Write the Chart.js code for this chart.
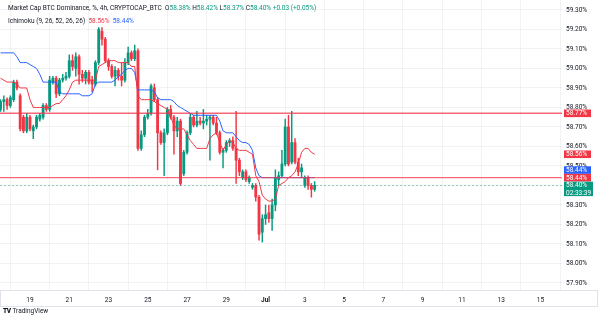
<!DOCTYPE html>
<html>
<head>
<meta charset="utf-8">
<script src="https://cdn.jsdelivr.net/npm/chart.js@4.4.1/dist/chart.umd.min.js"></script>
<style>
  html, body { margin: 0; padding: 0; background: #fff; }
  #wrap { position: relative; width: 600px; height: 315px; overflow: hidden; font-family: Roboto, "Liberation Sans", sans-serif; }
  #c { position: absolute; left: 0; top: 0; }
  .legend { position: absolute; left: 8px; font-size: 6.5px; line-height: 8px; color: #131722; white-space: nowrap; }
  .up { color: #089981; }
  .red { color: #F23645; }
  .blue { color: #2962FF; }
  #logo { position: absolute; left: 3px; top: 307px; font-size: 6.5px; line-height: 8px; color: #131722; white-space: nowrap; }
  #logo b { font-weight: 900; letter-spacing: -0.5px; margin-right: 2px; }
</style>
</head>
<body>
<div id="wrap">
  <canvas id="c" width="600" height="315"></canvas>
  <div class="legend" style="top:4px">Market Cap BTC Dominance, %, 4h, CRYPTOCAP_BTC&nbsp; O<span class="up">58.38%</span> H<span class="up">58.42%</span> L<span class="up">58.37%</span> C<span class="up">58.40%</span> <span class="up">+0.03 (+0.05%)</span></div>
  <div class="legend" style="top:17px">Ichimoku (9, 26, 52, 26, 26)&nbsp; <span class="red">58.56%</span>&nbsp; <span class="blue">58.44%</span></div>
  <div id="logo"><b>TV</b>TradingView</div>
</div>
<script>
// 4h candles, first one June 17 12:00 (x axis = day of June, Jul 1 = 31)
var startDay = 17.5;
var candleStep = 1 / 6;

var opens = [
  58.79, 58.83, 58.84, 58.81, 58.84, 58.93, 58.86, 58.75, 58.68, 58.75,
  58.68, 58.70, 58.74, 58.75, 58.81, 58.79, 58.93, 58.95, 58.87, 58.94,
  58.95, 58.96, 59.04, 59.00, 59.06, 58.97, 58.95, 58.98, 58.94, 58.92,
  59.03, 59.19, 59.15, 59.04, 59.01, 58.96, 58.99, 58.96, 58.94, 59.03,
  59.08, 59.05, 59.09, 58.59, 58.66, 58.75, 58.77, 58.90, 58.84, 58.67,
  58.62, 58.67, 58.79, 58.75, 58.68, 58.73, 58.46, 58.57, 58.67, 58.75,
  58.71, 58.73, 58.72, 58.73, 58.74, 58.75, 58.72, 58.67, 58.57, 58.58,
  58.62, 58.63, 58.59, 58.53, 58.44, 58.47, 58.42, 58.39, 58.40, 58.34,
  58.16, 58.23, 58.26, 58.23, 58.30, 58.43, 58.45, 58.51, 58.70, 58.52,
  58.62, 58.52, 58.47, 58.40, 58.44, 58.40, 58.38
];
var highs = [
  58.84, 58.86, 58.85, 58.86, 58.94, 58.94, 58.87, 58.76, 58.77, 58.76,
  58.71, 58.76, 58.77, 58.82, 58.82, 58.96, 58.96, 58.96, 58.95, 58.97,
  58.98, 59.07, 59.07, 59.08, 59.07, 58.99, 58.99, 58.99, 58.96, 59.04,
  59.21, 59.21, 59.16, 59.05, 59.02, 59.01, 59.00, 59.03, 59.05, 59.11,
  59.09, 59.12, 59.10, 58.68, 58.76, 58.79, 58.92, 58.92, 58.85, 58.68,
  58.69, 58.80, 58.81, 58.76, 58.75, 58.74, 58.58, 58.68, 58.77, 58.76,
  58.78, 58.75, 58.79, 58.76, 58.76, 58.76, 58.75, 58.68, 58.59, 58.63,
  58.64, 58.65, 58.78, 58.54, 58.48, 58.48, 58.45, 58.41, 58.41, 58.35,
  58.25, 58.30, 58.30, 58.33, 58.48, 58.47, 58.58, 58.74, 58.76, 58.78,
  58.64, 58.54, 58.51, 58.45, 58.45, 58.41, 58.42
];
var lows = [
  58.78, 58.78, 58.79, 58.80, 58.83, 58.89, 58.68, 58.67, 58.67, 58.68,
  58.64, 58.69, 58.73, 58.74, 58.78, 58.78, 58.92, 58.85, 58.86, 58.93,
  58.94, 58.95, 58.99, 58.96, 58.92, 58.93, 58.92, 58.92, 58.88, 58.91,
  59.02, 59.12, 59.03, 58.99, 58.95, 58.91, 58.94, 58.91, 58.93, 59.02,
  59.04, 59.04, 58.58, 58.58, 58.65, 58.74, 58.76, 58.83, 58.48, 58.61,
  58.45, 58.66, 58.74, 58.56, 58.65, 58.40, 58.45, 58.56, 58.66, 58.70,
  58.70, 58.71, 58.69, 58.71, 58.53, 58.71, 58.66, 58.56, 58.49, 58.57,
  58.60, 58.58, 58.41, 58.45, 58.43, 58.42, 58.41, 58.38, 58.32, 58.12,
  58.11, 58.20, 58.21, 58.17, 58.27, 58.40, 58.44, 58.50, 58.50, 58.51,
  58.51, 58.45, 58.44, 58.39, 58.38, 58.34, 58.37
];
var closes = [
  58.83, 58.84, 58.81, 58.85, 58.93, 58.90, 58.69, 58.68, 58.75, 58.69,
  58.70, 58.75, 58.76, 58.81, 58.79, 58.94, 58.95, 58.87, 58.94, 58.95,
  58.96, 59.04, 59.01, 59.06, 58.97, 58.95, 58.98, 58.93, 58.92, 59.03,
  59.20, 59.15, 59.04, 59.01, 58.96, 58.99, 58.96, 58.94, 59.03, 59.08,
  59.05, 59.09, 58.59, 58.66, 58.75, 58.77, 58.91, 58.84, 58.67, 58.62,
  58.67, 58.79, 58.75, 58.68, 58.73, 58.41, 58.57, 58.67, 58.75, 58.71,
  58.73, 58.72, 58.73, 58.74, 58.75, 58.72, 58.67, 58.57, 58.58, 58.62,
  58.63, 58.59, 58.53, 58.47, 58.47, 58.43, 58.44, 58.40, 58.34, 58.15,
  58.23, 58.25, 58.23, 58.30, 58.44, 58.45, 58.51, 58.70, 58.51, 58.62,
  58.52, 58.47, 58.49, 58.44, 58.40, 58.38, 58.40
];

// Ichimoku lines
var conversionLine = [
  58.95, 58.94, 58.93, 58.93, 58.93, 58.92, 58.90, 58.90, 58.90, 58.84,
  58.80, 58.80, 58.80, 58.80, 58.80, 58.80, 58.81, 58.82, 58.82, 58.84,
  58.86, 58.89, 58.93, 58.94, 58.94, 58.94, 58.94, 58.94, 58.94, 58.94,
  59.01, 59.02, 59.03, 59.04, 59.04, 59.04, 59.03, 59.03, 59.03, 59.03,
  59.01, 59.01, 58.86, 58.84, 58.84, 58.84, 58.84, 58.83, 58.82, 58.81,
  58.80, 58.79, 58.75, 58.71, 58.69, 58.69, 58.69, 58.66, 58.63, 58.61,
  58.59, 58.59, 58.59, 58.59, 58.64, 58.66, 58.67, 58.62, 58.58, 58.61,
  58.63, 58.62, 58.59, 58.58, 58.58, 58.58, 58.57, 58.56, 58.45, 58.42,
  58.35, 58.33, 58.32, 58.32, 58.33, 58.40, 58.41, 58.42, 58.44, 58.45,
  58.47, 58.51, 58.57, 58.59, 58.59, 58.57, 58.56
];
var baseLine = [
  59.08, 59.08, 59.08, 59.08, 59.08, 59.06, 59.03, 59.03, 59.03, 59.02,
  59.01, 59.00, 58.97, 58.93, 58.93, 58.93, 58.93, 58.93, 58.88, 58.87,
  58.87, 58.87, 58.87, 58.87, 58.87, 58.86, 58.86, 58.86, 58.87, 58.92,
  58.93, 58.93, 58.93, 58.93, 58.93, 58.94, 58.96, 58.97, 58.99, 59.00,
  59.00, 58.98, 58.89, 58.89, 58.89, 58.89, 58.89, 58.88, 58.85, 58.84,
  58.84, 58.84, 58.84, 58.83, 58.81, 58.80, 58.79, 58.78, 58.77, 58.76,
  58.76, 58.76, 58.76, 58.76, 58.76, 58.76, 58.76, 58.73, 58.68, 58.67,
  58.67, 58.67, 58.65, 58.63, 58.62, 58.62, 58.61, 58.58, 58.49, 58.45,
  58.44, 58.44, 58.44, 58.44, 58.44, 58.44, 58.44, 58.44, 58.44, 58.44,
  58.44, 58.44, 58.44, 58.44, 58.44, 58.44, 58.44
];

var levelPrices = [58.77, 58.44];
var lastPrice = 58.40;
var countdown = '02:33:39';

var yTicks = [57.9, 58.0, 58.1, 58.2, 58.3, 58.4, 58.5, 58.6, 58.7, 58.8, 58.9, 59.0, 59.1, 59.2, 59.3];
var xTickDays = [19, 21, 23, 25, 27, 29, 31, 33, 35, 37, 39, 41, 43, 45];
var xTickLabels = ['19', '21', '23', '25', '27', '29', 'Jul', '3', '5', '7', '9', '11', '13', '15'];

var UP = '#089981', DOWN = '#F23645', BLUE = '#2962FF';

var times = opens.map(function (v, i) { return startDay + i * candleStep; });
var candleColors = opens.map(function (o, i) { return closes[i] >= o ? UP : DOWN; });

var wickData = [], bodyData = [], convData = [], baseData = [];
for (var i = 0; i < times.length; i++) {
  wickData.push({ x: times[i], y: [lows[i], highs[i]] });
  bodyData.push({ x: times[i], y: [opens[i], closes[i]] });
  convData.push({ x: times[i], y: conversionLine[i] });
  baseData.push({ x: times[i], y: baseLine[i] });
}

var overlay = {
  id: 'overlay',
  afterDatasetsDraw: function (chart) {
    var ctx = chart.ctx, a = chart.chartArea, y = chart.scales.y;
    ctx.save();
    ctx.beginPath();
    ctx.rect(a.left, a.top, a.right - a.left, a.bottom - a.top);
    ctx.clip();
    // last price dotted line
    ctx.strokeStyle = 'rgba(8,153,129,0.45)';
    ctx.lineWidth = 1;
    ctx.setLineDash([2, 2]);
    var py = Math.round(y.getPixelForValue(lastPrice)) + 0.5;
    ctx.beginPath(); ctx.moveTo(a.left, py); ctx.lineTo(a.right, py); ctx.stroke();
    ctx.setLineDash([]);
    // horizontal levels
    ctx.strokeStyle = 'rgba(242,54,69,0.75)';
    ctx.lineWidth = 1.4;
    levelPrices.forEach(function (p) {
      var ly = y.getPixelForValue(p);
      ctx.beginPath(); ctx.moveTo(a.left, ly); ctx.lineTo(600, ly); ctx.stroke();
    });
    ctx.restore();
  },
  afterDraw: function (chart) {
    var ctx = chart.ctx, a = chart.chartArea, y = chart.scales.y;
    ctx.save();
    // time axis box
    ctx.strokeStyle = '#e0e3eb';
    ctx.lineWidth = 1;
    ctx.strokeRect(0.5, a.bottom + 0.5, 597, 16);

    var tags = [
      { v: levelPrices[0], c: DOWN },
      { v: conversionLine[conversionLine.length - 1], c: DOWN },
      { v: baseLine[baseLine.length - 1], c: BLUE },
      { v: levelPrices[1], c: DOWN },
      { v: lastPrice, c: UP, sub: countdown }
    ];
    var h = 7.6;
    tags.forEach(function (t) { t.y = y.getPixelForValue(t.v); t.top = t.y - h / 2; t.bot = t.sub ? t.y + h * 1.4 : t.y + h / 2; });
    // push labels up when they overlap, bottom first
    for (var k = tags.length - 2; k >= 0; k--) {
      var below = tags[k + 1];
      if (tags[k].bot > below.top) {
        var d = tags[k].bot - below.top;
        tags[k].y -= d; tags[k].top -= d; tags[k].bot -= d;
      }
    }
    ctx.font = '6.5px Roboto, "Liberation Sans", sans-serif';
    ctx.textBaseline = 'middle';
    ctx.textAlign = 'left';
    tags.forEach(function (t) {
      ctx.fillStyle = t.c;
      ctx.fillRect(564, t.top, t.sub ? 29 : 27, t.bot - t.top);
      ctx.fillStyle = '#fff';
      ctx.fillText(t.v.toFixed(2) + '%', 566, t.y + 0.3);
      if (t.sub) ctx.fillText(t.sub, 566, t.y + 7.5);
    });
    ctx.restore();
  }
};

var chart = new Chart(document.getElementById('c'), {
  type: 'bar',
  data: {
    datasets: [
      { type: 'line', data: convData, borderColor: DOWN, borderWidth: 1, pointRadius: 0, tension: 0, order: 0 },
      { type: 'line', data: baseData, borderColor: BLUE, borderWidth: 1, pointRadius: 0, tension: 0, order: 0 },
      { data: bodyData, backgroundColor: candleColors, barThickness: 2.2, minBarLength: 1, grouped: false, order: 1 },
      { data: wickData, backgroundColor: candleColors, barThickness: 0.8, grouped: false, order: 2 }
    ]
  },
  options: {
    responsive: false,
    animation: false,
    events: [],
    layout: { padding: { left: 0, right: 0, top: 0, bottom: 9 } },
    plugins: { legend: { display: false }, tooltip: { enabled: false } },
    scales: {
      x: {
        type: 'linear',
        offset: false,
        min: 17.472,
        max: 46.1,
        afterBuildTicks: function (s) { s.ticks = xTickDays.map(function (v) { return { value: v }; }); },
        afterFit: function (s) { s.height = 16; s.paddingLeft = 0; s.paddingRight = 0; },
        grid: { color: 'rgba(42,46,57,0.06)', drawTicks: false },
        border: { display: false },
        ticks: {
          autoSkip: false,
          maxRotation: 0,
          padding: 6,
          color: '#131722',
          font: function (c) {
            return { size: 6.5, family: 'Roboto', weight: c.tick && c.tick.value === 31 ? 'bold' : 'normal' };
          },
          callback: function (v, i) { return xTickLabels[i]; }
        }
      },
      y: {
        position: 'right',
        min: 57.864,
        max: 59.351,
        afterBuildTicks: function (s) { s.ticks = yTicks.map(function (v) { return { value: v }; }); },
        afterFit: function (s) { s.width = 38; s.paddingTop = 0; s.paddingBottom = 0; },
        grid: { color: 'rgba(42,46,57,0.06)', drawTicks: false },
        border: { display: false },
        ticks: {
          padding: 4,
          color: '#131722',
          font: { size: 6.5, family: 'Roboto' },
          callback: function (v) { return v.toFixed(2) + '%'; }
        }
      }
    }
  },
  plugins: [overlay]
});
</script>
</body>
</html>
